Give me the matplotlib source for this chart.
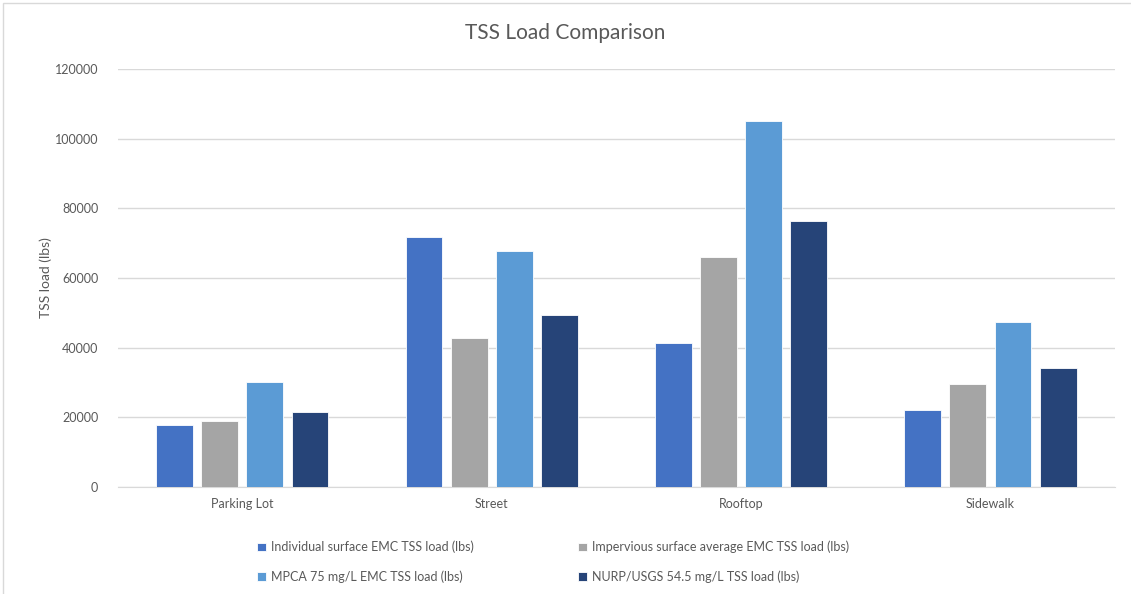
import matplotlib.pyplot as plt
import numpy as np
from matplotlib.patches import Rectangle

plt.rcParams['font.family'] = ['Lato', 'DejaVu Sans']

surfaces = ['Parking Lot', 'Street', 'Rooftop', 'Sidewalk']
individual_emc = [17800, 71700, 41300, 22100]
impervious_avg = [18900, 42750, 66000, 29550]
mpca_75 = [30100, 67700, 105000, 47350]
nurp_usgs = [21500, 49350, 76300, 34150]

series = [
    ('Individual surface EMC TSS load (lbs)', individual_emc, '#4472C4'),
    ('Impervious surface average EMC TSS load (lbs)', impervious_avg, '#A5A5A5'),
    ('MPCA 75 mg/L EMC TSS load (lbs)', mpca_75, '#5B9BD5'),
    ('NURP/USGS 54.5 mg/L TSS load (lbs)', nurp_usgs, '#264478'),
]

text_color = '#595959'
fig = plt.figure(figsize=(11.31, 5.94), dpi=100)
ax = fig.add_axes([0.104, 0.180, 0.882, 0.704])

x = np.arange(len(surfaces))
slot = 0.181
width = 0.148
bars = []
for i, (label, vals, color) in enumerate(series):
    b = ax.bar(x + (i - 1.5) * slot, vals, width, color=color, label=label,
               edgecolor='white', linewidth=0.6, zorder=3)
    bars.append(b)

ax.set_xlim(-0.5, len(surfaces) - 0.5)
ax.set_ylim(0, 120000)
ax.set_yticks(np.arange(0, 120001, 20000))
ax.set_xticks(x)
ax.set_xticklabels(surfaces)
ax.yaxis.grid(True, color='#D9D9D9', linewidth=1, zorder=0)
ax.tick_params(length=0, labelsize=9, colors=text_color, pad=8)
ax.tick_params(axis='y', pad=14)
for s in ['top', 'right', 'left']:
    ax.spines[s].set_visible(False)
ax.spines['bottom'].set_color('#D9D9D9')
ax.set_ylabel('TSS load (lbs)', fontsize=10, color=text_color, labelpad=2)

fig.suptitle('TSS Load Comparison', fontsize=15, color=text_color, y=0.962)

# two-column legend, filled column-wise so rows read 1-2 / 3-4
order = [0, 2, 1, 3]
fig.legend([bars[k] for k in order], [series[k][0] for k in order],
           loc='lower center', bbox_to_anchor=(0.489, 0.0), ncol=2, frameon=False,
           fontsize=9, labelcolor=text_color, handlelength=0.7, handleheight=0.7,
           handletextpad=0.4, columnspacing=8.3, labelspacing=1.35)

fig.patches.append(Rectangle((0.003, -0.01), 1.2, 1.005, transform=fig.transFigure,
                             fill=False, edgecolor='#D9D9D9', linewidth=1))

fig.savefig('out.png', dpi=100)
